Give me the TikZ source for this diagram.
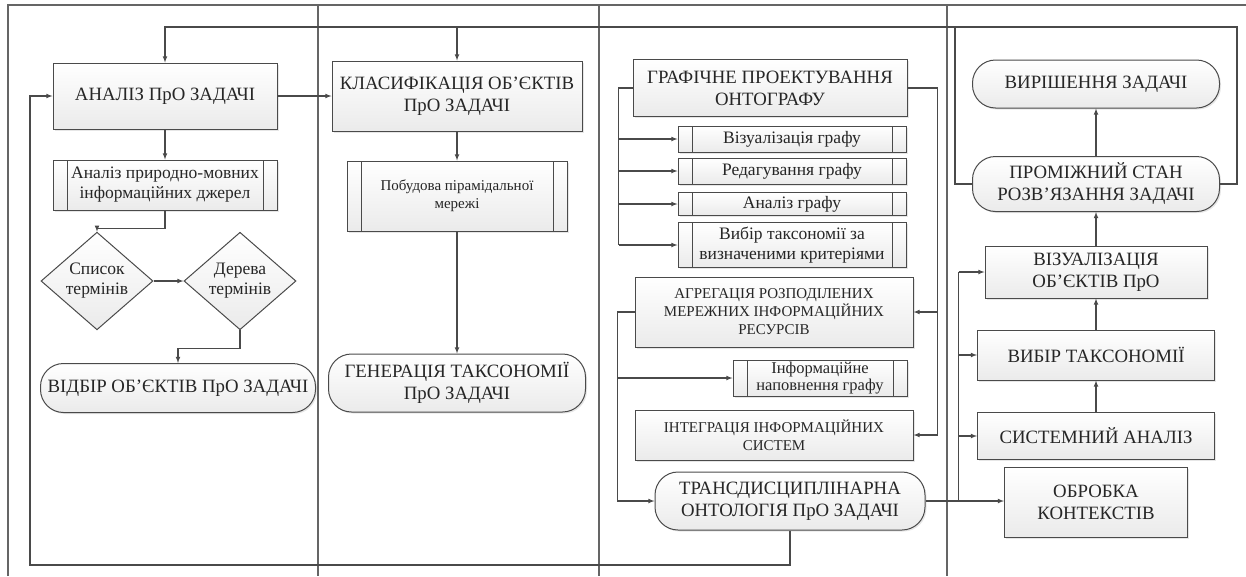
\documentclass[tikz,border=0pt]{standalone}
\usepackage{fontspec}
\setmainfont{Liberation Serif}
\usepackage{tikz}
\usetikzlibrary{shapes.misc, shapes.geometric, arrows, positioning, calc, shadows}
\definecolor{flow_gray}{HTML}{4A4A4A}
\colorlet{linegray}{flow_gray}
\colorlet{lanegray}{flow_gray!85}
\newcommand{\capsfont}{\fontsize{18.8}{22}\selectfont}
\newcommand{\midfont}{\fontsize{15}{18}\selectfont}
\newcommand{\plainfont}{\fontsize{17.5}{20}\selectfont}
\tikzset{
  procbox/.style={rectangle,draw=linegray,line width=1pt,top color=white,bottom color=gray!16,text=black!85,align=center,inner sep=2pt,font=\capsfont,drop shadow={opacity=.2,shadow xshift=1.5pt,shadow yshift=-1.5pt}},
  subproc/.style={procbox,font=\plainfont,path picture={\draw[linegray,line width=1pt] ([xshift=14pt]path picture bounding box.north west) -- ([xshift=14pt]path picture bounding box.south west) ([xshift=-14pt]path picture bounding box.north east) -- ([xshift=-14pt]path picture bounding box.south east);}},
  termbox/.style={procbox,rounded corners=23pt},
  decision/.style={diamond,draw=linegray,line width=1pt,top color=white,bottom color=gray!16,text=black!85,align=center,inner sep=0pt,font=\plainfont,minimum width=112pt,minimum height=72pt},
  link/.style={line width=1.1pt,linegray},
  flow/.style={link,-latex},
  lane/.style={line width=1.1pt,lanegray},
}

\begin{document}
\begin{tikzpicture}[x=1pt,y=-1pt]
	\useasboundingbox (0,0) rectangle (1246,576);
	\draw[lane] (8,576) -- (8,5) -- (1246,5);
	\foreach \x in {318,599,947}
		\draw[lane] (\x,5) -- (\x,576);
	\node[procbox,minimum width=224pt,minimum height=66pt] (A1) at (165,96) {АНАЛІЗ ПрО ЗАДАЧІ};
	\node[subproc,minimum width=224pt,minimum height=50pt] (A2) at (165,185) {Аналіз природно-мовних\\інформаційних джерел};
	\node[decision] (A3) at (97,281) {Список\\термінів};
	\node[decision] (A4) at (240,281) {Дерева\\термінів};
	\node[termbox,minimum width=275pt,minimum height=49pt] (A5) at (178,388) {ВІДБІР ОБ’ЄКТІВ ПрО ЗАДАЧІ};
	\node[procbox,minimum width=250pt,minimum height=70pt] (B1) at (457,96) {КЛАСИФІКАЦІЯ ОБ’ЄКТІВ\\ПрО ЗАДАЧІ};
	\node[subproc,font=\midfont,minimum width=220pt,minimum height=70pt] (B2) at (457,196) {Побудова пірамідальної\\мережі};
	\node[termbox,minimum width=257pt,minimum height=58pt] (B3) at (457,383) {ГЕНЕРАЦІЯ ТАКСОНОМІЇ\\ПрО ЗАДАЧІ};
	\node[procbox,minimum width=274pt,minimum height=57pt] (C1) at (770,88) {ГРАФІЧНЕ ПРОЕКТУВАННЯ\\ОНТОГРАФУ};
	\node[subproc,minimum width=228pt,minimum height=26pt] (C2) at (792,139) {Візуалізація графу};
	\node[subproc,minimum width=228pt,minimum height=26pt] (C3) at (792,171) {Редагування графу};
	\node[subproc,minimum width=228pt,minimum height=23pt] (C4) at (792,204) {Аналіз графу};
	\node[subproc,minimum width=228pt,minimum height=45pt] (C5) at (792,245) {Вибір таксономії за\\визначеними критеріями};
	\node[procbox,font=\midfont,minimum width=278pt,minimum height=70pt] (C6) at (774,312) {АГРЕГАЦІЯ РОЗПОДІЛЕНИХ\\МЕРЕЖНИХ ІНФОРМАЦІЙНИХ\\РЕСУРСІВ};
	\node[subproc,font=\fontsize{16.5}{17}\selectfont,inner sep=0pt,minimum width=174pt,minimum height=36pt] (C7) at (820,378) {Інформаційне\\наповнення графу};
	\node[procbox,font=\midfont,minimum width=278pt,minimum height=50pt] (C8) at (774,435) {ІНТЕГРАЦІЯ ІНФОРМАЦІЙНИХ\\СИСТЕМ};
	\node[termbox,minimum width=270pt,minimum height=58pt] (C9) at (790,501) {ТРАНСДИСЦИПЛІНАРНА\\ОНТОЛОГІЯ ПрО ЗАДАЧІ};
	\node[termbox,minimum width=247pt,minimum height=48pt] (D1) at (1096,84) {ВИРІШЕННЯ ЗАДАЧІ};
	\node[termbox,minimum width=247pt,minimum height=55pt] (D2) at (1096,184) {ПРОМІЖНИЙ СТАН\\РОЗВ’ЯЗАННЯ ЗАДАЧІ};
	\node[procbox,minimum width=222pt,minimum height=52pt] (D3) at (1096,272) {ВІЗУАЛІЗАЦІЯ\\ОБ’ЄКТІВ ПрО};
	\node[procbox,minimum width=237pt,minimum height=50pt] (D4) at (1096,355) {ВИБІР ТАКСОНОМІЇ};
	\node[procbox,minimum width=237pt,minimum height=47pt] (D5) at (1096,436) {СИСТЕМНИЙ АНАЛІЗ};
	\node[procbox,minimum width=183pt,minimum height=70pt] (D6) at (1096,502) {ОБРОБКА\\КОНТЕКСТІВ};
	\coordinate (R1) at (955,27);
	\coordinate (R2) at (1237,27);
	\coordinate (R3) at (30,565);
	\draw[flow] (A1) -- (A2);
	\draw[flow] (A1.east) -- (A1.east -| B1.west);
	\draw[flow] (A2.south) -- ++(0,18) -| (A3.north);
	\draw[flow] (A3.east) -- (A4.west);
	\draw[flow] (A4.south) -- ++(0,18) -| (A5.north);
	\draw[flow] (B1) -- (B2);
	\draw[flow] (B2) -- (B3);
	\draw[link] (C1.west) -- ++(-14,0) coordinate (t1) -- (t1 |- C5.west);
	\foreach \n in {C2,C3,C4,C5}
		\draw[flow] (t1 |- \n.west) -- (\n.west);
	\draw[flow] (C6.west) -- ++(-17,0) coordinate (t2) |- (C9.west);
	\draw[flow] (t2 |- C7.west) -- (C7.west);
	\draw[link] (C1.east) -- ++(30,0) coordinate (t3) -- (t3 |- C8.east);
	\foreach \n in {C6,C8}
		\draw[flow] (t3 |- \n.east) -- (\n.east);
	\draw[flow] (C9.east) -- (C9.east -| D6.west);
	\path (C9.east) -- ++(33,0) coordinate (t4);
	\draw[link] (t4) -- (t4 |- D3.west);
	\foreach \n in {D3,D4,D5}
		\draw[flow] (t4 |- \n.west) -- (\n.west);
	\draw[flow] (D5) -- (D4);
	\draw[flow] (D4) -- (D3);
	\draw[flow] (D3) -- (D2);
	\draw[flow] (D2) -- (D1);
	\draw[link] (D2.west) -| (R1) -- (R2) |- (D2.east);
	\draw[flow] (R1) -| (A1.north);
	\draw[flow] (R1 -| B1.north) -- (B1.north);
	\draw[flow] (C9.south) |- (R3) |- (A1.west);
\end{tikzpicture}
\end{document}
